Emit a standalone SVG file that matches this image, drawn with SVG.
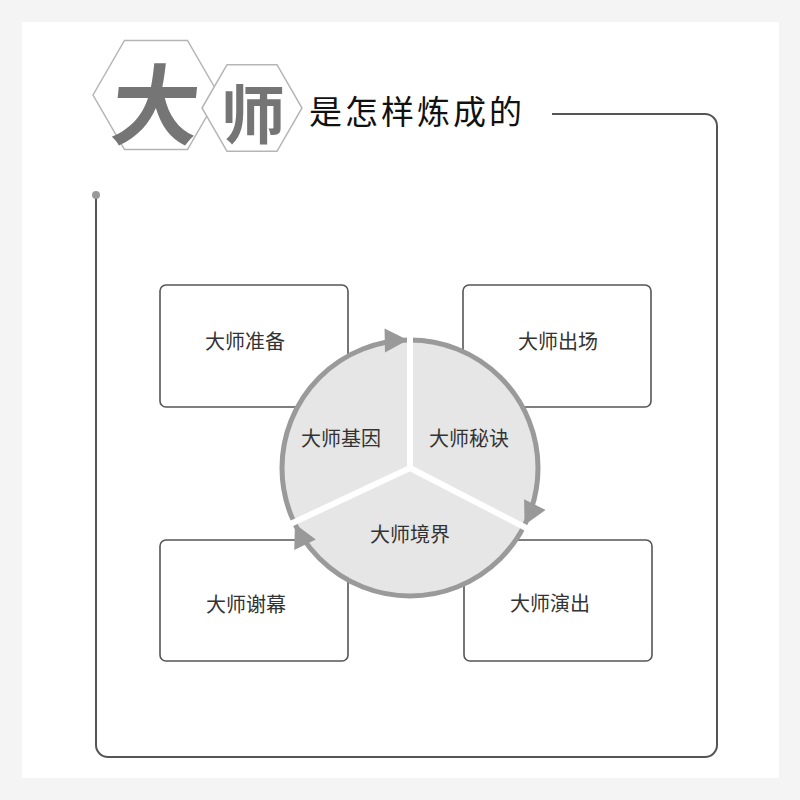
<svg xmlns="http://www.w3.org/2000/svg" width="800" height="800" viewBox="0 0 800 800">
<defs>
<style>
.box{fill:#fff;stroke:#555;stroke-width:1.6}
.lbl{font-family:"Noto Sans CJK SC","Noto Sans",sans-serif;font-size:20px;fill:#333;text-anchor:middle;dominant-baseline:central}
.hex{fill:#fff;stroke:#b5b5b5;stroke-width:1.5}
.cal{font-family:"Noto Sans CJK SC",sans-serif;font-weight:700;fill:#757575;text-anchor:middle;dominant-baseline:central}
.conn{fill:none;stroke:#555;stroke-width:2}
.arr{fill:#999}
.spoke{stroke:#fff;stroke-width:6;stroke-linecap:butt}
</style>
</defs>
<rect width="800" height="800" fill="#f4f4f4"/>
<rect x="22" y="22" width="757" height="756" fill="#fff"/>

<g id="title">
<polygon class="hex" points="93,95 124.5,40.4 187.5,40.4 219,95 187.5,149.6 124.5,149.6"/>
<text class="cal" x="156" y="100" font-size="88" transform="skewX(-6) translate(11,0)">大</text>
<polygon class="hex" points="202,108 227,64.7 277,64.7 302,108 277,151.3 227,151.3"/>
<text class="cal" x="253" y="110" font-size="64">师</text>
<text x="309" y="124" font-family="Noto Sans CJK SC,sans-serif" font-size="33" letter-spacing="3" fill="#111">是怎样炼成的</text>
</g>

<g id="connectors">
<path class="conn" d="M552,114 H705 A12,12 0 0 1 717,126 V745 A12,12 0 0 1 705,757 H108 A12,12 0 0 1 96,745 V196"/>
<circle cx="96" cy="195" r="4" fill="#999"/>
</g>

<g id="n-prepare"><rect class="box" x="160" y="285" width="188" height="122" rx="6"/><text class="lbl" x="245" y="340">大师准备</text></g>
<g id="n-appear"><rect class="box" x="463" y="285" width="188" height="122" rx="6"/><text class="lbl" x="558" y="340">大师出场</text></g>
<g id="n-curtain"><rect class="box" x="160" y="540" width="188" height="121" rx="6"/><text class="lbl" x="246" y="603">大师谢幕</text></g>
<g id="n-perform"><rect class="box" x="464" y="540" width="188" height="121" rx="6"/><text class="lbl" x="550" y="602">大师演出</text></g>

<g id="cycle">
<circle cx="410" cy="468" r="128" fill="#e6e6e6" stroke="#9a9a9a" stroke-width="5"/>
<polygon class="arr" points="538,468 526,445 550,445" transform="rotate(-91 410 468)"/>
<polygon class="arr" points="538,468 526,445 550,445" transform="rotate(26.5 410 468)"/>
<polygon class="arr" points="538,468 526,445 550,445" transform="rotate(154 410 468)"/>
<line class="spoke" x1="410" y1="468" x2="410" y2="330"/>
<line class="spoke" x1="410" y1="468" x2="534" y2="532"/>
<line class="spoke" x1="410" y1="468" x2="284" y2="527"/>
<text class="lbl" x="341" y="437" font-size="19">大师基因</text>
<text class="lbl" x="469" y="437" font-size="19">大师秘诀</text>
<text class="lbl" x="410" y="533" font-size="19">大师境界</text>
</g>
</svg>
